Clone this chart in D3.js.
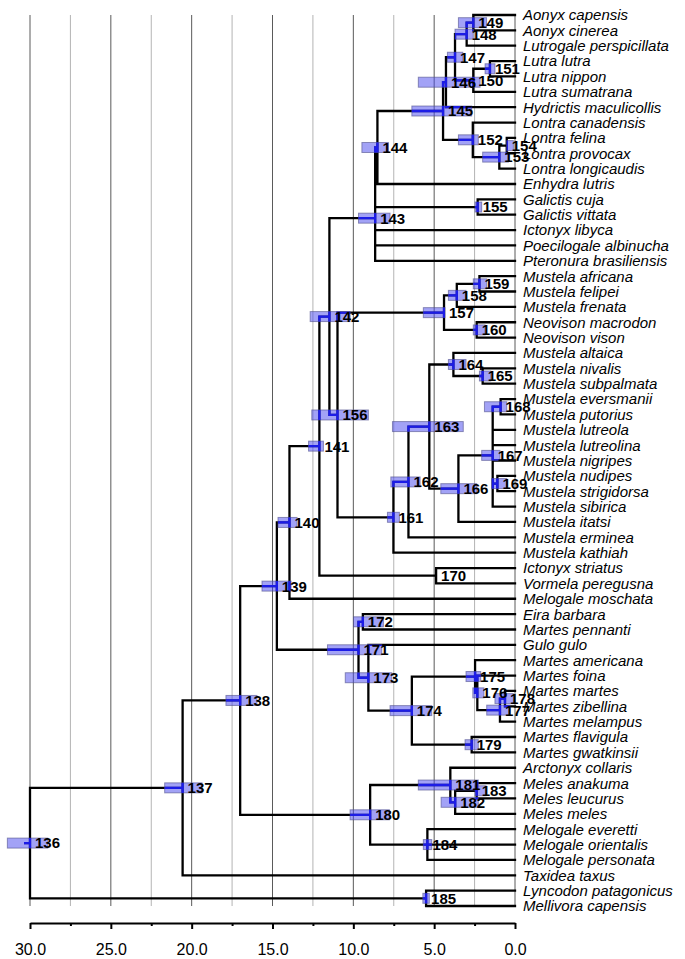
<!DOCTYPE html>
<html><head><meta charset="utf-8">
<script src="https://cdn.jsdelivr.net/npm/d3@7"></script>
<style>body{margin:0;background:#fff}</style>
</head><body>
<svg id="chart" width="685" height="959"></svg>
<script>
const tipNames = ["Aonyx capensis","Aonyx cinerea","Lutrogale perspicillata","Lutra lutra","Lutra nippon","Lutra sumatrana","Hydrictis maculicollis","Lontra canadensis","Lontra felina","Lontra provocax","Lontra longicaudis","Enhydra lutris","Galictis cuja","Galictis vittata","Ictonyx libyca","Poecilogale albinucha","Pteronura brasiliensis","Mustela africana","Mustela felipei","Mustela frenata","Neovison macrodon","Neovison vison","Mustela altaica","Mustela nivalis","Mustela subpalmata","Mustela eversmanii","Mustela putorius","Mustela lutreola","Mustela lutreolina","Mustela nigripes","Mustela nudipes","Mustela strigidorsa","Mustela sibirica","Mustela itatsi","Mustela erminea","Mustela kathiah","Ictonyx striatus","Vormela peregusna","Melogale moschata","Eira barbara","Martes pennanti","Gulo gulo","Martes americana","Martes foina","Martes martes","Martes zibellina","Martes melampus","Martes flavigula","Martes gwatkinsii","Arctonyx collaris","Meles anakuma","Meles leucurus","Meles meles","Melogale everetti","Melogale orientalis","Melogale personata","Taxidea taxus","Lyncodon patagonicus","Mellivora capensis"];

const nodeIds = ["136","137","138","139","140","141","142","143","144","145","146","147","148","149","150","151","152","153","154","155","156","157","158","159","160","161","162","163","164","165","166","167","168","169","170","171","172","173","174","175","176","177","178","179","180","181","182","183","184","185"];

const nodeChildren = [
 ["137","185"],
 ["138","Taxidea taxus"],
 ["139","180"],
 ["140","171"],
 ["141","Melogale moschata"],
 ["142","170"],
 ["143","156"],
 ["144","155","Ictonyx libyca","Poecilogale albinucha","Pteronura brasiliensis"],
 ["145","Enhydra lutris"],
 ["146","152"],
 ["147","Hydrictis maculicollis"],
 ["148","150"],
 ["149","Lutrogale perspicillata"],
 ["Aonyx capensis","Aonyx cinerea"],
 ["151","Lutra sumatrana"],
 ["Lutra lutra","Lutra nippon"],
 ["Lontra canadensis","153"],
 ["154","Lontra longicaudis"],
 ["Lontra felina","Lontra provocax"],
 ["Galictis cuja","Galictis vittata"],
 ["157","161"],
 ["158","160"],
 ["159","Mustela frenata"],
 ["Mustela africana","Mustela felipei"],
 ["Neovison macrodon","Neovison vison"],
 ["162","Mustela kathiah"],
 ["163","Mustela erminea"],
 ["164","166"],
 ["Mustela altaica","165"],
 ["Mustela nivalis","Mustela subpalmata"],
 ["167","Mustela itatsi"],
 ["168","Mustela lutreola","Mustela lutreolina","Mustela nigripes","169","Mustela sibirica"],
 ["Mustela eversmanii","Mustela putorius"],
 ["Mustela nudipes","Mustela strigidorsa"],
 ["Ictonyx striatus","Vormela peregusna"],
 ["172","173"],
 ["Eira barbara","Martes pennanti"],
 ["Gulo gulo","174"],
 ["175","179"],
 ["Martes americana","176"],
 ["Martes foina","177"],
 ["178","Martes melampus"],
 ["Martes martes","Martes zibellina"],
 ["Martes flavigula","Martes gwatkinsii"],
 ["181","184"],
 ["Arctonyx collaris","182"],
 ["183","Meles meles"],
 ["Meles anakuma","Meles leucurus"],
 ["Melogale everetti","Melogale orientalis","Melogale personata"],
 ["Lyncodon patagonicus","Mellivora capensis"]
];

const nodeAges = [30.0,20.56,17.0,14.73,13.95,12.1,11.48,8.65,8.51,4.45,4.27,3.71,2.99,2.58,2.58,1.55,2.61,0.97,0.51,2.31,10.98,4.39,3.6,2.2,2.37,7.52,6.59,5.3,3.81,2.0,3.5,1.38,0.89,1.09,4.88,9.68,9.41,9.07,6.38,2.47,2.33,0.93,0.62,2.68,8.96,4.0,3.7,2.37,5.42,5.5];

const hpdLow  = [28.9,19.36,15.96,13.85,13.48,11.85,10.2,7.73,7.83,2.68,2.16,3.23,2.58,1.76,null,1.24,2.27,0.41,0.1,2.06,9.07,4.33,3.03,1.75,1.85,7.15,5.87,3.2,3.03,1.5,2.37,0.93,0.51,0.51,null,8.24,8.14,7.62,5.15,2.12,1.92,0.31,0.1,2.27,7.77,2.27,2.27,1.79,5.15,5.3];
const hpdHigh = [31.4,21.67,17.88,15.65,14.66,12.77,12.67,9.68,9.47,6.38,5.98,4.18,3.71,3.5,null,1.85,3.5,2.0,0.51,2.47,12.57,5.67,4.12,2.58,2.58,7.89,7.68,7.58,4.12,2.2,4.59,2.06,1.89,1.44,null,11.6,9.99,10.5,7.73,3.03,2.61,1.75,1.24,3.09,10.2,5.98,4.57,2.47,5.67,5.7];

const axisTicks = [30,25,20,15,10,5,0];
const minorTicks = [27.5,22.5,17.5,12.5,7.5,2.5];
const gridValues = [30,27.5,25,22.5,20,17.5,15,12.5,10,7.5,5,2.5,0];

// ---- build hierarchy
const nodeMap = {};
nodeIds.forEach((id,i)=>{ nodeMap[id] = {name:id, age:nodeAges[i], lo:hpdLow[i], hi:hpdHigh[i], childIds:nodeChildren[i]}; });
function build(id){
  if (nodeMap[id]) {
    const n = nodeMap[id];
    return {name:id, age:n.age, lo:n.lo, hi:n.hi, internal:true, children:n.childIds.map(build)};
  }
  return {name:id, age:0, internal:false, tipIndex:tipNames.indexOf(id)};
}
const root = d3.hierarchy(build("136"));

const x = d3.scaleLinear().domain([30,0]).range([30,515]);
const y = d3.scaleLinear().domain([0,tipNames.length-1]).range([15,906]);

root.eachAfter(d=>{
  if (d.children) d.py = d3.mean(d.children, c=>c.py);
  else d.py = y(d.data.tipIndex);
  d.px = x(d.data.age);
});

const svg = d3.select("#chart");

// grid
svg.append("g").selectAll("line").data(gridValues).join("line")
  .attr("x1", d=>x(d)).attr("x2", d=>x(d))
  .attr("y1", y(0)).attr("y2", y(tipNames.length-1))
  .attr("stroke", d=> (d%5===0) ? "#5a5a5a" : "#b4b4b4")
  .attr("stroke-width", 1);

// tree path
let pathStr = "";
root.each(d=>{
  if (d.children){
    const ys = d.children.map(c=>c.py);
    pathStr += `M${d.px},${d3.min(ys)}V${d3.max(ys)}`;
    d.children.forEach(c=>{ pathStr += `M${d.px},${c.py}H${c.px}`; });
  }
});
pathStr += `M${x(30.3)},${root.py}H${root.px}`;

svg.append("path").attr("d", pathStr).attr("fill","none")
  .attr("stroke","#000").attr("stroke-width",2.3).attr("stroke-linecap","square");

// bars
const barNodes = root.descendants().filter(d=>d.data.internal && d.data.lo!=null);
const bh = 10;
const defs = svg.append("defs");
const clip = defs.append("clipPath").attr("id","barclip");
clip.selectAll("rect").data(barNodes).join("rect")
  .attr("x", d=>x(d.data.hi)).attr("width", d=>x(d.data.lo)-x(d.data.hi))
  .attr("y", d=>d.py-bh/2).attr("height", bh);

svg.append("g").selectAll("rect").data(barNodes).join("rect")
  .attr("x", d=>x(d.data.hi)).attr("width", d=>Math.max(1,x(d.data.lo)-x(d.data.hi)))
  .attr("y", d=>d.py-bh/2).attr("height", bh)
  .attr("fill","rgb(70,70,238)").attr("fill-opacity",0.5)
  .attr("stroke","rgb(80,80,140)").attr("stroke-opacity",0.6).attr("stroke-width",1);

svg.append("path").attr("d", pathStr).attr("fill","none")
  .attr("stroke","#1c1ce6").attr("stroke-width",2.3).attr("stroke-linecap","square")
  .attr("clip-path","url(#barclip)");

// node labels
svg.append("g").selectAll("text").data(root.descendants().filter(d=>d.data.internal)).join("text")
  .attr("x", d=>d.px+5).attr("y", d=>d.py).attr("dy","0.36em")
  .attr("font-family","Liberation Sans, Arial, sans-serif").attr("font-weight","bold")
  .attr("font-size",15).attr("fill","#000")
  .text(d=>d.data.name);

// tip labels
svg.append("g").selectAll("text").data(root.leaves()).join("text")
  .attr("x", x(0)+8).attr("y", d=>d.py).attr("dy","0.36em")
  .attr("font-family","Liberation Sans, Arial, sans-serif").attr("font-style","italic")
  .attr("font-size",15).attr("fill","#000")
  .text(d=>d.data.name);

// axis
const axisY = 923;
const gx = svg.append("g").attr("transform",`translate(0,${axisY})`)
  .call(d3.axisBottom(x).tickValues(axisTicks).tickFormat(d3.format(".1f")).tickSize(6).tickSizeOuter(0).tickPadding(15));
gx.select(".domain").attr("stroke","#000").attr("stroke-width",2);
gx.selectAll(".tick line").attr("stroke","#000").attr("stroke-width",2);
gx.selectAll(".tick text").attr("font-family","Liberation Sans, Arial, sans-serif").attr("font-size",16).attr("fill","#000");

const gm = svg.append("g").attr("transform",`translate(0,${axisY})`)
  .call(d3.axisBottom(x).tickValues(minorTicks).tickFormat("").tickSize(3).tickSizeOuter(0));
gm.select(".domain").remove();
gm.selectAll(".tick line").attr("stroke","#000").attr("stroke-width",2);
</script>
</body></html>
